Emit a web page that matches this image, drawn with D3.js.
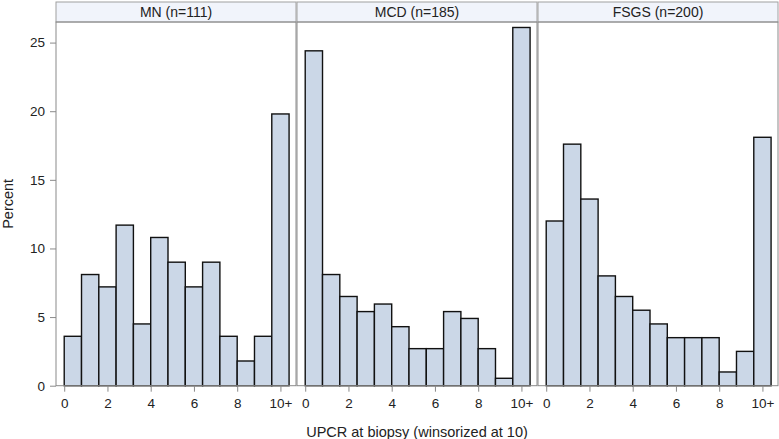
<!DOCTYPE html>
<html>
<head>
<meta charset="utf-8">
<script src="https://cdn.jsdelivr.net/npm/d3@7"></script>
<style>
  body { margin: 0; background: #fff; }
  text { font-family: "Liberation Sans", Arial, sans-serif; fill: #222; }
</style>
</head>
<body>
<div id="container"></div>
<script>
/* DATA */
const groups = ["MN (n=111)", "MCD (n=185)", "FSGS (n=200)"];
const binStarts = [0, 0.8, 1.6, 2.4, 3.2, 4.0, 4.8, 5.6, 6.4, 7.2, 8.0, 8.8, 9.6];
const mnPct = [3.6, 8.1, 7.2, 11.7, 4.5, 10.8, 9.0, 7.2, 9.0, 3.6, 1.8, 3.6, 19.8];
const mcdPct = [24.4, 8.1, 6.5, 5.4, 5.95, 4.3, 2.7, 2.7, 5.4, 4.9, 2.7, 0.54, 26.1];
const fsgsPct = [12.0, 17.6, 13.6, 8.0, 6.5, 5.5, 4.5, 3.5, 3.5, 3.5, 1.0, 2.5, 18.1];
const xTicks = [0, 2, 4, 6, 8, 10];
const yTicks = [0, 5, 10, 15, 20, 25];
const binWidth = 0.8;

/* CONSTANTS AND GLOBALS */
const W = 779, H = 439;
const panelLeft = 56, panelW = 240, gap = 1;
const headTop = 2, headH = 20;
const plotTop = 22, plotBottom = 385.7;

const series = [mnPct, mcdPct, fsgsPct];

const svg = d3.select("#container")
  .append("svg")
  .attr("width", W)
  .attr("height", H);

const x = d3.scaleLinear().domain([-0.38, 10.72]).range([0, panelW]);
const y = d3.scaleLinear().domain([0, 26.5]).range([plotBottom, plotTop]);

groups.forEach((g, i) => {
  const px = panelLeft + i * (panelW + gap);
  const panel = svg.append("g").attr("transform", `translate(${px},0)`);

  // header strip
  panel.append("rect")
    .attr("x", 0).attr("y", headTop)
    .attr("width", panelW).attr("height", headH)
    .attr("fill", "#f1f4fb")
    .attr("stroke", "#a0a0a0");
  panel.append("text")
    .attr("x", panelW / 2).attr("y", headTop + headH / 2)
    .attr("dy", "0.36em")
    .attr("text-anchor", "middle")
    .style("font-size", "14px")
    .text(g);

  // bars
  panel.selectAll("rect.bar")
    .data(series[i])
    .join("rect")
    .attr("class", "bar")
    .attr("x", (d, k) => x(binStarts[k]))
    .attr("width", (d, k) => x(binStarts[k] + binWidth) - x(binStarts[k]))
    .attr("y", d => y(d))
    .attr("height", d => y(0) - y(d))
    .attr("fill", "#cbd7e7")
    .attr("stroke", "#111")
    .attr("stroke-width", 1.4);

  // frame
  panel.append("rect")
    .attr("x", 0).attr("y", plotTop)
    .attr("width", panelW).attr("height", plotBottom - plotTop)
    .attr("fill", "none")
    .attr("stroke", "#8a8a8a");

  // x axis
  const xa = panel.append("g")
    .attr("transform", `translate(0,${plotBottom})`)
    .call(d3.axisBottom(x).tickValues(xTicks).tickSize(6).tickPadding(7)
      .tickFormat(d => d === 10 ? "10+" : d));
  xa.select(".domain").remove();
  xa.selectAll("line").attr("stroke", "#8a8a8a");
  xa.selectAll("text").style("font-size", "13.5px").attr("fill", "#222");
});

// y axis
const ya = svg.append("g")
  .attr("transform", `translate(${panelLeft},0)`)
  .call(d3.axisLeft(y).tickValues(yTicks).tickSize(6).tickPadding(5));
ya.select(".domain").remove();
ya.selectAll("line").attr("stroke", "#8a8a8a");
ya.selectAll("text").style("font-size", "13.5px").attr("fill", "#222");

// axis titles
svg.append("text")
  .attr("transform", `translate(13,${(plotTop + plotBottom) / 2}) rotate(-90)`)
  .attr("text-anchor", "middle")
  .style("font-size", "14.5px")
  .text("Percent");

svg.append("text")
  .attr("x", panelLeft + (3 * panelW + 2 * gap) / 2)
  .attr("y", 432)
  .attr("dy", "0.36em")
  .attr("text-anchor", "middle")
  .style("font-size", "14.5px")
  .text("UPCR at biopsy (winsorized at 10)");
</script>
</body>
</html>
